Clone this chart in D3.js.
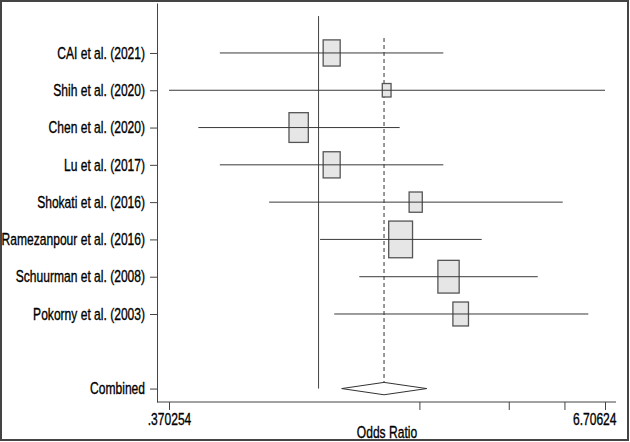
<!DOCTYPE html>
<html>
<head>
<meta charset="utf-8">
<script src="https://cdn.jsdelivr.net/npm/d3@7"></script>
<style>
  body { margin: 0; background: #fff; }
  text { font-family: "Liberation Sans", Arial, sans-serif; fill: #000; stroke: #000; stroke-width: 0.35px; }
</style>
</head>
<body>
<div id="chart"></div>
<script>
// studies, top to bottom
var studies = ['CAI et al. (2021)', 'Shih et al. (2020)', 'Chen et al. (2020)', 'Lu et al. (2017)',
               'Shokati et al. (2016)', 'Ramezanpour et al. (2016)', 'Schuurman et al. (2008)', 'Pokorny et al. (2003)'];
var oddsRatio = [1.092, 1.573, 0.877, 1.092, 1.908, 1.727, 2.374, 2.573];
var ciLow     = [0.519, 0.370254, 0.450, 0.519, 0.720, 1.010, 1.311, 1.110];
var ciHigh    = [2.291, 6.70624, 1.714, 2.291, 5.064, 2.956, 4.289, 6.003];
var weight    = [11.7, 3.1, 15.1, 11.7, 7.0, 23.0, 18.3, 9.8];

var combinedLabel = 'Combined';
var combined = {or: 1.545, low: 1.166, high: 2.052};

var xTicks = [0.370254, 1.954251, 3.538248, 5.122245, 6.70624];
var xTickLabels = ['.370254', '', '', '', '6.70624'];

var W = 630, H = 442;
var narrow = 0.74; // squeeze text to look like Arial Narrow
var fs = '16.3px';

var svg = d3.select('#chart').append('svg').attr('width', W).attr('height', H);

svg.append('rect').attr('x', 0).attr('y', 0).attr('width', W).attr('height', H).attr('fill', '#fff');
svg.append('rect').attr('x', 1).attr('y', 1).attr('width', W - 3).attr('height', H - 3)
  .attr('fill', 'none').attr('stroke', '#444').attr('stroke-width', 2);

var x = d3.scaleLog().domain([xTicks[0], xTicks[4]]).range([169, 605]);
var y = d3.scaleLinear().domain([-1.34, 9.36]).range([3, 402]);

var rows = studies.map(function(s, i) {
  return {name: s, or: oddsRatio[i], low: ciLow[i], high: ciHigh[i], w: weight[i], row: i};
});
var combRow = 9;

function squeeze(sel) {
  sel.each(function() {
    var t = d3.select(this);
    var tx = +t.attr('x') || 0;
    t.attr('x', tx / narrow).attr('transform', 'scale(' + narrow + ',1)');
  });
}

// y axis
var yAxis = d3.axisLeft(y)
  .tickValues(d3.range(studies.length).concat([combRow]))
  .tickFormat(function(d) { return d === combRow ? combinedLabel : studies[d]; })
  .tickSize(7).tickSizeOuter(0).tickPadding(5);
var gy = svg.append('g').attr('transform', 'translate(157,0)').call(yAxis);
gy.selectAll('text').style('font-size', fs).call(squeeze);
gy.selectAll('line, path').attr('stroke', '#444');

// x axis
var xAxis = d3.axisBottom(x)
  .tickValues(xTicks)
  .tickFormat(function(d, i) { return xTickLabels[i]; })
  .tickSize(8).tickSizeOuter(0).tickPadding(3);
var gx = svg.append('g').attr('transform', 'translate(0,402)').call(xAxis);
gx.select('.domain').remove();
gx.selectAll('line').attr('stroke', '#444');
gx.selectAll('.tick').filter(function(d, i) { return i === 4; }).select('text')
  .attr('text-anchor', 'end').attr('x', 11);
gx.selectAll('text').style('font-size', fs).call(squeeze);
svg.append('line').attr('x1', 157).attr('x2', 616).attr('y1', 402).attr('y2', 402)
  .attr('stroke', '#444');

svg.append('text').attr('x', 387 / narrow).attr('y', 438).attr('text-anchor', 'middle')
  .attr('transform', 'scale(' + narrow + ',1)')
  .style('font-size', fs).text('Odds Ratio');

// null line
svg.append('line').attr('x1', x(1)).attr('x2', x(1)).attr('y1', y(-0.99)).attr('y2', y(combRow))
  .attr('stroke', '#444').attr('stroke-width', 1);

// combined estimate dashed line
svg.append('line').attr('x1', x(combined.or)).attr('x2', x(combined.or))
  .attr('y1', y(-0.4)).attr('y2', y(combRow) - 6)
  .attr('stroke', '#555').attr('stroke-width', 1.2).attr('stroke-dasharray', '4,3');

// boxes
svg.selectAll('.box').data(rows).enter().append('rect')
  .attr('class', 'box')
  .attr('x', function(d) { var h = 7.65 * Math.sqrt(d.w); return x(d.or) - 0.33 * h; })
  .attr('y', function(d) { var h = 7.65 * Math.sqrt(d.w); return y(d.row) - h / 2; })
  .attr('width', function(d) { return 0.65 * 7.65 * Math.sqrt(d.w); })
  .attr('height', function(d) { return 7.65 * Math.sqrt(d.w); })
  .attr('fill', '#e6e6e6').attr('stroke', '#555').attr('stroke-width', 1.3);

// confidence intervals
svg.selectAll('.ci').data(rows).enter().append('line')
  .attr('class', 'ci')
  .attr('x1', function(d) { return x(d.low); })
  .attr('x2', function(d) { return x(d.high); })
  .attr('y1', function(d) { return y(d.row); })
  .attr('y2', function(d) { return y(d.row); })
  .attr('stroke', '#3a3a3a').attr('stroke-width', 1);

// combined diamond
var cy = y(combRow);
svg.append('path')
  .attr('d', 'M' + x(combined.low) + ',' + cy + 'L' + x(combined.or) + ',' + (cy - 6.2) +
             'L' + x(combined.high) + ',' + cy + 'L' + x(combined.or) + ',' + (cy + 6.2) + 'Z')
  .attr('fill', '#fff').attr('stroke', '#333').attr('stroke-width', 1);
</script>
</body>
</html>
